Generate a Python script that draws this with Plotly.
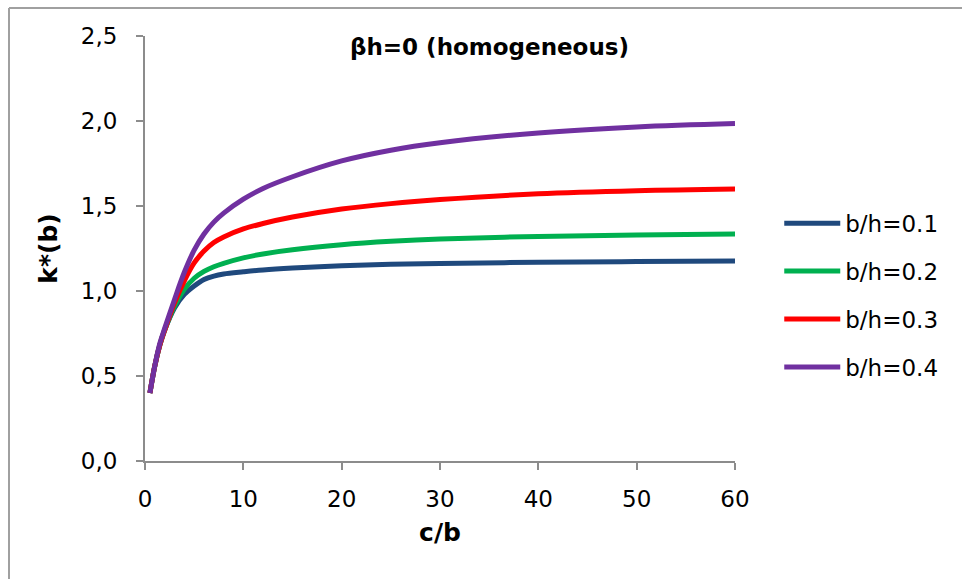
import plotly.graph_objects as go

c_b = [0.5, 1, 1.5, 2, 3, 4, 5, 6, 7, 8, 10, 12, 15, 20, 25, 30, 40, 50, 60]
k_01 = [0.40, 0.56, 0.68, 0.77, 0.90, 0.98, 1.03, 1.068, 1.088, 1.10, 1.113, 1.124, 1.135, 1.148, 1.157, 1.162, 1.169, 1.173, 1.176]
k_02 = [0.40, 0.56, 0.68, 0.77, 0.91, 1.01, 1.075, 1.115, 1.143, 1.163, 1.195, 1.218, 1.243, 1.272, 1.292, 1.306, 1.321, 1.33, 1.335]
k_03 = [0.40, 0.56, 0.68, 0.77, 0.93, 1.06, 1.165, 1.235, 1.285, 1.318, 1.365, 1.397, 1.435, 1.482, 1.514, 1.538, 1.572, 1.59, 1.60]
k_04 = [0.40, 0.56, 0.69, 0.78, 0.95, 1.11, 1.24, 1.335, 1.405, 1.458, 1.54, 1.603, 1.672, 1.765, 1.828, 1.872, 1.93, 1.965, 1.985]

series_names = ["b/h=0.1", "b/h=0.2", "b/h=0.3", "b/h=0.4"]
series_vals = [k_01, k_02, k_03, k_04]
colors = ["#1F497D", "#00B050", "#FF0000", "#7030A0"]

x_ticks = [0, 10, 20, 30, 40, 50, 60]
y_ticks = [0, 0.5, 1.0, 1.5, 2.0, 2.5]
y_tick_text = ["0,0", "0,5", "1,0", "1,5", "2,0", "2,5"]

FONT = "DejaVu Sans"

fig = go.Figure()
for i, (name, vals, col) in enumerate(zip(series_names, series_vals, colors)):
    fig.add_trace(go.Scatter(
        x=c_b, y=vals, name=name, mode="lines",
        line=dict(color=col, width=5, shape="spline", smoothing=1.0),
        legendgroup=f"g{i}",
    ))

axis_col = "#8C8C8C"
fig.update_layout(
    width=962, height=579,
    margin=dict(l=145, r=227, t=36, b=118),
    paper_bgcolor="white", plot_bgcolor="white",
    font=dict(family=FONT, color="black", size=22),
    showlegend=True,
    legend=dict(
        x=1.075, xanchor="left", y=0.39, yanchor="middle",
        font=dict(family=FONT, size=23, color="black"),
        itemwidth=56, tracegroupgap=15, traceorder="grouped",
        bgcolor="rgba(0,0,0,0)",
    ),
    annotations=[dict(
        text="<b>βh=0 (homogeneous)</b>",
        x=(489 - 145) / 590, xanchor="center",
        y=(461 - 47) / 425, yanchor="middle",
        xref="paper", yref="paper",
        showarrow=False, font=dict(family=FONT, size=23, color="black"),
    )],
    shapes=[
        dict(type="line", xref="paper", yref="paper",
             x0=(9 - 145) / 590, x1=(9 - 145) / 590, y0=-0.5, y1=(461 - 8) / 425,
             line=dict(color="#A0A0A0", width=2)),
        dict(type="line", xref="paper", yref="paper",
             x0=(9 - 145) / 590, x1=1.6, y0=(461 - 8) / 425, y1=(461 - 8) / 425,
             line=dict(color="#A0A0A0", width=2)),
    ],
)

fig.update_xaxes(
    range=[0, 60], tickvals=x_ticks, ticktext=[str(t) for t in x_ticks],
    showgrid=False, zeroline=False, showline=True, linecolor=axis_col, linewidth=2,
    ticks="outside", ticklen=7, tickcolor=axis_col, tickwidth=2,
    tickfont=dict(family=FONT, size=23), ticklabelstandoff=9,
    title=dict(text="<b>c/b</b>", font=dict(family=FONT, size=25), standoff=13),
)
fig.update_yaxes(
    range=[0, 2.5], tickvals=y_ticks, ticktext=y_tick_text,
    showgrid=False, zeroline=False, showline=True, linecolor=axis_col, linewidth=2,
    ticks="outside", ticklen=7, tickcolor=axis_col, tickwidth=2,
    tickfont=dict(family=FONT, size=23), ticklabelstandoff=14,
    title=dict(text="<b>k*(b)</b>", font=dict(family=FONT, size=25), standoff=16),
)

fig.write_html("out.html")
